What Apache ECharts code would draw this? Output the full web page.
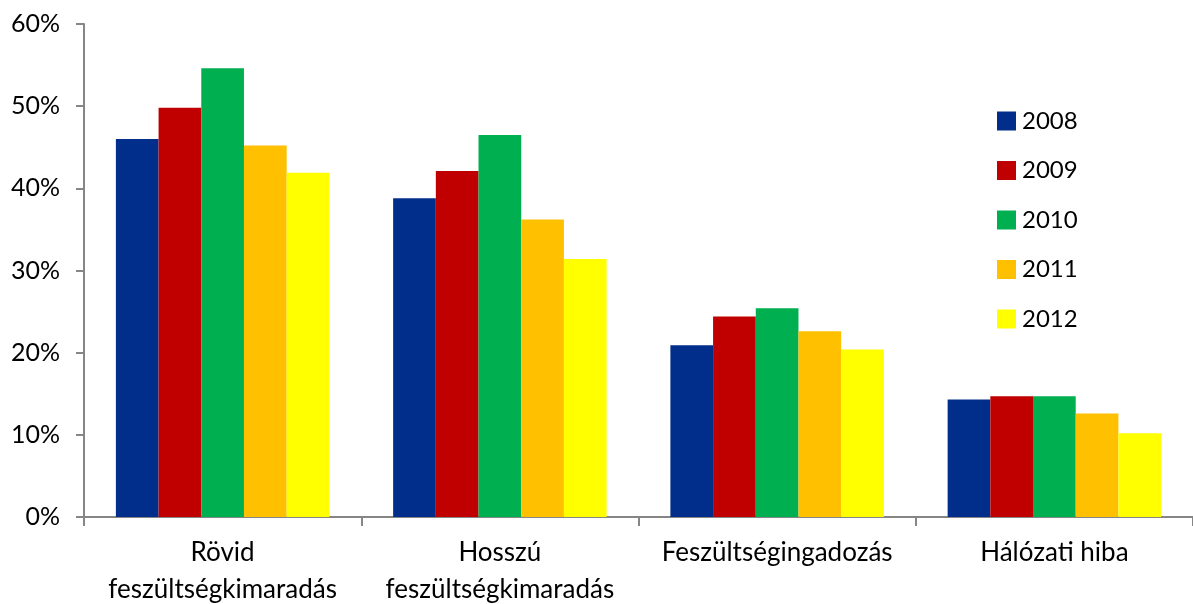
<!DOCTYPE html>
<html><head><meta charset="utf-8">
<script src="https://cdn.jsdelivr.net/npm/echarts@6/dist/echarts.min.js"></script>
<style>html,body{margin:0;padding:0;background:#fff}#c{width:1193px;height:604px}</style>
</head><body><div id="c"></div>
<script>
const categories = ['Rövid\nfeszültségkimaradás', 'Hosszú\nfeszültségkimaradás', 'Feszültségingadozás', 'Hálózati hiba'];
const years = ['2008', '2009', '2010', '2011', '2012'];
const colors = ['#002E8A', '#C00000', '#00B050', '#FFC000', '#FFFF00'];
const v2008 = [46.0, 38.8, 20.9, 14.3];
const v2009 = [49.8, 42.1, 24.4, 14.7];
const v2010 = [54.6, 46.5, 25.4, 14.7];
const v2011 = [45.2, 36.2, 22.6, 12.6];
const v2012 = [41.9, 31.4, 20.4, 10.2];
const yTicks = { min: 0, max: 60, interval: 10 };

const seriesValues = [v2008, v2009, v2010, v2011, v2012];
const font = 'Lato, "Open Sans", sans-serif';
const chart = echarts.init(document.getElementById('c'));
chart.setOption({
  animation: false,
  color: colors,
  grid: { left: 84, right: 0, top: 24, bottom: 87, containLabel: false, outerBoundsMode: 'none' },
  legend: {
    orient: 'vertical', left: 992, top: 104,
    itemWidth: 19, itemHeight: 19, itemGap: 25.5,
    icon: 'rect',
    textStyle: { fontFamily: font, fontSize: 24, color: '#000', padding: [0, 0, 0, 1] },
    data: years
  },
  xAxis: {
    type: 'category', data: categories,
    axisLine: { lineStyle: { color: '#868686', width: 2 } },
    axisTick: { show: true, length: 9, lineStyle: { color: '#868686', width: 2 } },
    axisLabel: { fontFamily: font, fontSize: 26, color: '#000', margin: 17.5, lineHeight: 37, interval: 0 }
  },
  yAxis: {
    type: 'value', min: yTicks.min, max: yTicks.max, interval: yTicks.interval,
    axisLine: { show: true, lineStyle: { color: '#868686', width: 2 } },
    axisTick: { show: true, length: 8, lineStyle: { color: '#868686', width: 2 } },
    splitLine: { show: false },
    axisLabel: { fontFamily: font, fontSize: 25, color: '#000', margin: 24, formatter: '{value}%' }
  },
  series: years.map((y, i) => ({
    name: y, type: 'bar', data: seriesValues[i],
    barGap: '0%', barCategoryGap: '23%',
    itemStyle: { color: colors[i] }
  }))
});
</script></body></html>
